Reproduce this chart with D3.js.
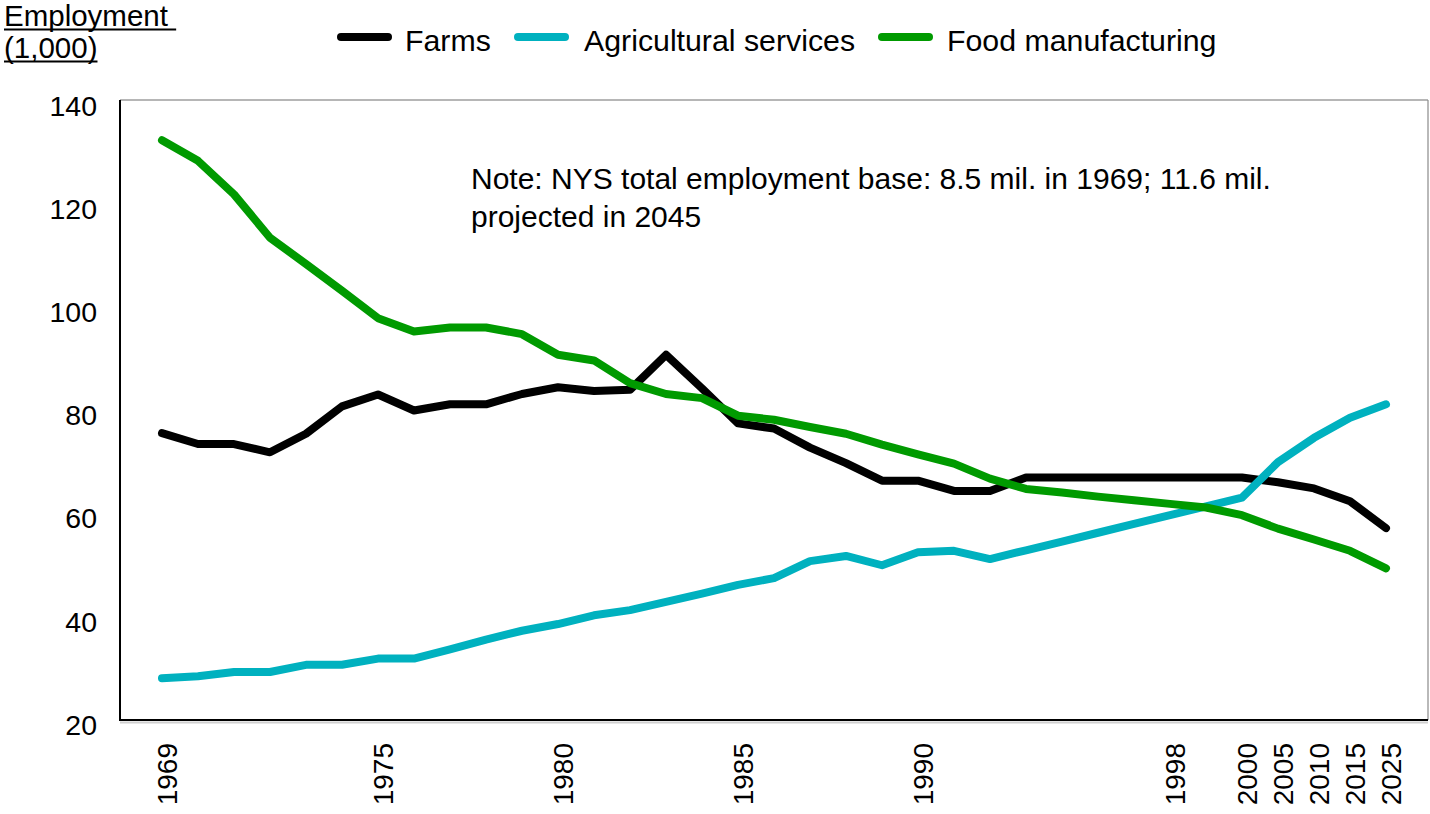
<!DOCTYPE html>
<html>
<head>
<meta charset="utf-8">
<script src="https://cdn.jsdelivr.net/npm/d3@7"></script>
<style>
  body { margin: 0; background: #fff; }
  text { font-family: "Liberation Sans", Arial, Helvetica, sans-serif; fill: #000; }
</style>
</head>
<body>
<svg id="chart" width="1430" height="814"></svg>
<script>
// Category axis (years as plotted)
const years = [1969, 1970, 1971, 1972, 1973, 1974, 1975, 1976, 1977, 1978,
               1979, 1980, 1981, 1982, 1983, 1984, 1985, 1986, 1987, 1988,
               1989, 1990, 1991, 1992, 1993, 1994, 1995, 1996, 1998, 1999,
               2000, 2005, 2010, 2015, 2025];
const labeledYears = [1969, 1975, 1980, 1985, 1990, 1998, 2000, 2005, 2010, 2015, 2025];

// Employment, thousands
const farms = [75.6, 73.5, 73.5, 71.9, 75.5, 80.8, 83.1, 80.0, 81.2, 81.2,
               83.2, 84.5, 83.8, 84.0, 90.8, 84.3, 77.5, 76.5, 72.8, 69.8,
               66.4, 66.4, 64.4, 64.4, 67.0, 67.0, 67.0, 67.0, 67.0, 67.0,
               67.0, 66.1, 64.9, 62.4, 57.2];
const agServices = [28.1, 28.5, 29.3, 29.3, 30.7, 30.7, 31.9, 31.9, 33.7, 35.6,
                    37.3, 38.6, 40.3, 41.3, 42.9, 44.5, 46.2, 47.5, 50.8, 51.8,
                    50.0, 52.5, 52.8, 51.2, 52.9, 54.6, 56.3, 58.0, 59.7, 61.4,
                    63.1, 70.0, 74.7, 78.6, 81.2];
const foodMfg = [132.4, 128.4, 121.9, 113.5, 108.4, 103.2, 97.9, 95.3, 96.1, 96.1,
                 94.8, 90.8, 89.7, 85.3, 83.2, 82.4, 79.0, 78.2, 76.8, 75.5,
                 73.4, 71.5, 69.7, 66.8, 64.8, 64.1, 63.3, 62.6, 61.9, 61.2,
                 59.7, 57.1, 55.0, 52.8, 49.4];

const yTicks = [20, 40, 60, 80, 100, 120, 140];

const seriesNames = ["Farms", "Agricultural services", "Food manufacturing"];
const seriesColors = ["#000000", "#00B1BF", "#009A00"];
const seriesValues = [farms, agServices, foodMfg];

const svg = d3.select("#chart");
const plot = { left: 120, right: 1428, top: 100, bottom: 720 };

const x = d3.scalePoint().domain(years).range([162, 1386]);
const y = d3.scaleLinear().domain([20, 140]).range([720, 101]);

// Plot frame
svg.append("line").attr("x1", plot.left).attr("x2", plot.right)
  .attr("y1", plot.top).attr("y2", plot.top)
  .attr("stroke", "#6e6e6e").attr("stroke-width", 1.2);
svg.append("line").attr("x1", plot.right).attr("x2", plot.right)
  .attr("y1", plot.top).attr("y2", plot.bottom)
  .attr("stroke", "#8a8a8a").attr("stroke-width", 1.2);
// bottom axis shadow
svg.append("line").attr("x1", plot.left).attr("x2", plot.right)
  .attr("y1", plot.bottom + 2.5).attr("y2", plot.bottom + 2.5)
  .attr("stroke", "#d0d0d0").attr("stroke-width", 2);

// Y axis
const yAxis = svg.append("g")
  .attr("transform", `translate(${plot.left},0)`)
  .call(d3.axisLeft(y).tickValues(yTicks).tickSize(0).tickPadding(23).tickFormat(d3.format("d")));
yAxis.select(".domain").remove();
yAxis.selectAll("text")
  .attr("font-size", 28.5)
  .attr("font-family", "Liberation Sans, Arial, sans-serif")
  .attr("fill", "#000")
  .attr("dy", "0.5em");
svg.append("line").attr("x1", plot.left).attr("x2", plot.left)
  .attr("y1", plot.top).attr("y2", plot.bottom + 1)
  .attr("stroke", "#000").attr("stroke-width", 2);

// X axis
const xAxis = svg.append("g")
  .attr("transform", `translate(0,${plot.bottom})`)
  .call(d3.axisBottom(x).tickValues(labeledYears).tickSize(0));
xAxis.select(".domain").remove();
xAxis.selectAll("text")
  .attr("font-size", 28)
  .attr("font-family", "Liberation Sans, Arial, sans-serif")
  .attr("fill", "#000")
  .attr("transform", "rotate(-90)")
  .attr("text-anchor", "end")
  .attr("x", -23)
  .attr("y", 0)
  .attr("dy", "0.5em");
svg.append("line").attr("x1", plot.left).attr("x2", plot.right)
  .attr("y1", plot.bottom).attr("y2", plot.bottom)
  .attr("stroke", "#000").attr("stroke-width", 2);

// Series lines
const line = d3.line()
  .x((d, i) => x(years[i]))
  .y(d => y(d));

seriesValues.forEach((vals, k) => {
  svg.append("path")
    .datum(vals)
    .attr("d", line)
    .attr("fill", "none")
    .attr("stroke", seriesColors[k])
    .attr("stroke-width", 8)
    .attr("stroke-linecap", "round")
    .attr("stroke-linejoin", "round");
});

// Legend
const legendItems = [
  { x1: 341, x2: 388, tx: 405 },
  { x1: 518, x2: 565, tx: 584 },
  { x1: 882, x2: 929, tx: 947 }
];
legendItems.forEach((it, k) => {
  svg.append("line")
    .attr("x1", it.x1).attr("x2", it.x2).attr("y1", 37).attr("y2", 37)
    .attr("stroke", seriesColors[k]).attr("stroke-width", 8)
    .attr("stroke-linecap", "round");
  svg.append("text")
    .attr("x", it.tx).attr("y", 51)
    .attr("font-size", 30.3)
    .text(seriesNames[k]);
});

// Axis title (underlined)
const titleLines = [
  { text: "Employment\u00A0", y: 26 },
  { text: "(1,000)", y: 58 }
];
titleLines.forEach(t => {
  const el = svg.append("text")
    .attr("x", 4).attr("y", t.y)
    .attr("font-size", 29.5)
    .text(t.text);
  const w = el.node().getComputedTextLength();
  svg.append("line")
    .attr("x1", 4).attr("x2", 4 + w)
    .attr("y1", t.y + 3.5).attr("y2", t.y + 3.5)
    .attr("stroke", "#000").attr("stroke-width", 2);
});

// Note
const note = svg.append("text")
  .attr("x", 471).attr("y", 189)
  .attr("font-size", 30);
note.append("tspan").attr("x", 471).attr("y", 189)
  .text("Note: NYS total employment base: 8.5 mil. in 1969; 11.6 mil.");
note.append("tspan").attr("x", 471).attr("y", 227)
  .text("projected in 2045");
</script>
</body>
</html>
